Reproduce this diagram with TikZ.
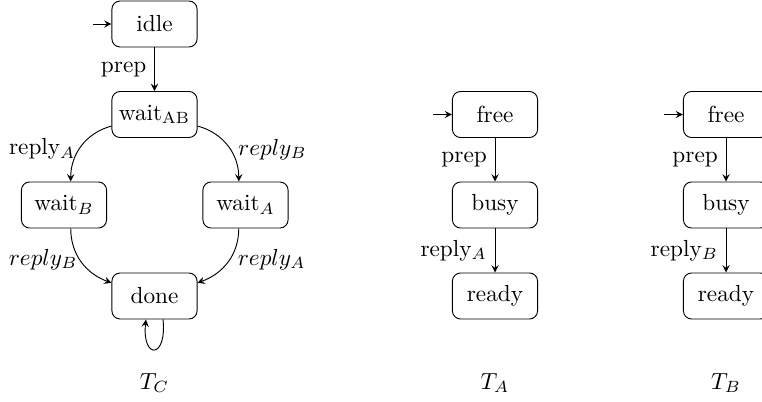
\documentclass[tikz,border=0pt]{standalone}
\usepackage{tikz}

\begin{document}
\begin{tikzpicture}[%
    x=0.43pt, y=-0.43pt,
    state/.style={%
        draw,
        rectangle,
        rounded corners=3.5pt,
        inner sep=2pt,
        minimum width=36.6pt,
        minimum height=19.8pt
    },
    title/.style={%
        inner sep=1pt
    },
    >=stealth
]
\useasboundingbox (0,0) rectangle (762,402);

% Controller (T_C)
    \node[state] (idle) at (154.5,24) {idle};
    \node[state] (waitAB) at (154.5,114.5) {wait$_{\mathrm{AB}}$};
    \node[state] (waitB) at (64,205) {wait$_B$};
    \node[state] (waitA) at (245.5,205) {wait$_A$};
    \node[state] (done) at (154.5,296) {done};
    \coordinate (idleStart) at (93,24);
    \node[title] (titleC) at (154.5,383) {$T_C$};

% Server A (T_A)
    \node[state] (freeA) at (495,114.5) {free};
    \node[state] (busyA) at (495,205) {busy};
    \node[state] (readyA) at (495,296) {ready};
    \coordinate (freeAStart) at (433,114.5);
    \node[title] (titleA) at (495,383) {$T_A$};

% Server B (T_B)
    \node[state] (freeB) at (726,114.5) {free};
    \node[state] (busyB) at (726,205) {busy};
    \node[state] (readyB) at (726,296) {ready};
    \coordinate (freeBStart) at (664,114.5);
    \node[title] (titleB) at (726,383) {$T_B$};

% Arrows
\draw[->] (idleStart) -- (idle);
\draw[->] (idle) -- node[left] {prep} (waitAB);

\draw[->] (waitAB.195) to[out=195,in=90] node[left,pos=.55,xshift=1.8pt] {reply$_A$} (waitB.74);
\draw[->] (waitAB.-15) to[out=-15,in=90] node[right,pos=.55] {$reply_B$} (waitA.106);

\draw[->] (waitB.-74) to[out=-90,in=160] node[left,pos=.45,xshift=2.5pt] {$reply_B$} (done.163);
\draw[->] (waitA.-106) to[out=-90,in=20] node[right,pos=.45] {$reply_A$} (done.17);

\draw[->] (done.290) .. controls +(4,40) and +(-4,40) .. (done.250);


\draw[->] (freeAStart) -- (freeA);
\draw[->] (freeA) -- node[left] {prep} (busyA);
\draw[->] (busyA) -- node[left] {reply$_A$} (readyA);

\draw[->] (freeBStart) -- (freeB);
\draw[->] (freeB) -- node[left] {prep} (busyB);
\draw[->] (busyB) -- node[left] {reply$_B$} (readyB);

\end{tikzpicture}
\end{document}
